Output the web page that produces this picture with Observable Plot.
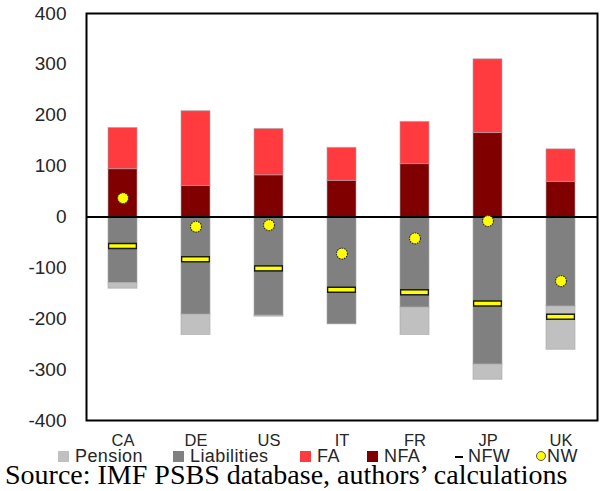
<!DOCTYPE html>
<html>
<head>
<meta charset="utf-8">
<script src="https://cdn.jsdelivr.net/npm/d3@7"></script>
<script src="https://cdn.jsdelivr.net/npm/@observablehq/plot@0.6"></script>
<style>
  body { margin: 0; background: #fff; }
  #wrap { position: relative; width: 601px; height: 491px; overflow: hidden; font-family: "Liberation Sans", Arial, sans-serif; color: #262626; }
  #chart { position: absolute; left: 0; top: 0; }
  #legend { position: absolute; left: 0; top: 449px; width: 601px; height: 14px; font-size: 18px; line-height: 14px; white-space: nowrap; }
  .item { position: absolute; top: 0; display: flex; align-items: center; letter-spacing: 0.4px; }
  .sw { display: inline-block; width: 11px; height: 11px; margin-right: 6px; }
  .dash { display: inline-block; width: 12px; height: 11px; margin-right: 3px; position: relative; }
  .dash::after { content: ""; position: absolute; left: 2px; right: 2px; top: 5px; height: 2px; background: #000; }
  .circ { display: inline-block; width: 10px; height: 10px; border-radius: 50%; margin-right: 1px; box-sizing: border-box; border: 1px solid #555; background: #ffff00; }
  #caption { position: absolute; left: 5px; top: 464px; font-family: "Liberation Serif", "Times New Roman", serif; font-size: 28px; line-height: 22px; white-space: nowrap; color: #000; }
</style>
</head>
<body>
<div id="wrap">
  <div id="chart"></div>
  <div id="legend"></div>
  <div id="caption">Source: IMF PSBS database, authors’ calculations</div>
</div>
<script>
// ---- data ----
const countries = ["CA", "DE", "US", "IT", "FR", "JP", "UK"];
const NFA = [94, 61, 82, 71, 104, 165, 69];
const FA = [81, 147, 91, 65, 83, 145, 64];
const Liabilities = [-130, -192, -194, -211, -178, -290, -176];
const Pension = [-11, -40, -2, 0, -54, -30, -85];
const NFW = [-57, -83, -101, -143, -148, -170, -196];
const NW = [37, -19, -16, -72, -42, -8, -126];
const yTicks = [-400, -300, -200, -100, 0, 100, 200, 300, 400];
const seriesNames = ["NFA", "FA", "Liabilities", "Pension"];
const seriesColors = ["#800000", "#ff3b3f", "#808080", "#c0c0c0"];
const legendNames = ["Pension", "Liabilities", "FA", "NFA", "NFW", "NW"];

// ---- tables ----
const seriesData = { NFA, FA, Liabilities, Pension };
const rows = [];
countries.forEach((c, i) => {
  seriesNames.forEach(s => rows.push({ country: c, series: s, value: seriesData[s][i] }));
});
const pts = countries.map((c, i) => ({ country: c, nfw: NFW[i], nw: NW[i] }));

const chart = Plot.plot({
  width: 601,
  height: 452,
  marginLeft: 86,
  marginRight: 4,
  marginTop: 13,
  marginBottom: 32,
  style: { background: "transparent", color: "#262626", fontFamily: "Liberation Sans, Arial, sans-serif" },
  x: { domain: countries, paddingInner: 0.6, paddingOuter: 0.3, axis: null, label: null },
  y: { domain: [-400, 400], axis: null, label: null },
  color: { domain: seriesNames, range: seriesColors },
  marks: [
    Plot.barY(rows, { x: "country", y: "value", fill: "series", order: seriesNames, stroke: "#a6a6a6", strokeOpacity: 0.6, strokeWidth: 1 }),
    Plot.ruleY([0], { stroke: "#000", strokeWidth: 2 }),
    Plot.tickY(pts, { x: "country", y: "nfw", stroke: "#1a1a1a", strokeWidth: 6.5 }),
    Plot.tickY(pts, { x: "country", y: "nfw", stroke: "#ffff00", strokeWidth: 3.5, insetLeft: 1.3, insetRight: 1.3 }),
    Plot.dot(pts, { x: "country", y: "nw", r: 5.5, fill: "#ffff00", stroke: "#333", strokeWidth: 1.2, strokeDasharray: "1.5,1" }),
    Plot.frame({ stroke: "#000", strokeWidth: 2 }),
    Plot.axisY({ ticks: yTicks, tickSize: 0, tickPadding: 20, fontSize: 19, tickFormat: d => String(d), label: null }),
    Plot.axisX({ tickSize: 0, tickPadding: 14, fontSize: 16.5, label: null })
  ]
});
document.getElementById("chart").appendChild(chart);

// ---- legend ----
const legendColors = { Pension: "#c0c0c0", Liabilities: "#808080", FA: "#ff3b3f", NFA: "#800000" };
const legendLeft = [58, 173, 300, 367, 453, 536];
const legend = document.getElementById("legend");
legendNames.forEach((name, i) => {
  const item = document.createElement("span");
  item.className = "item";
  item.style.left = legendLeft[i] + "px";
  const sw = document.createElement("span");
  if (name === "NFW") sw.className = "dash";
  else if (name === "NW") sw.className = "circ";
  else { sw.className = "sw"; sw.style.background = legendColors[name]; }
  item.appendChild(sw);
  item.appendChild(document.createTextNode(name));
  legend.appendChild(item);
});
</script>
</body>
</html>
